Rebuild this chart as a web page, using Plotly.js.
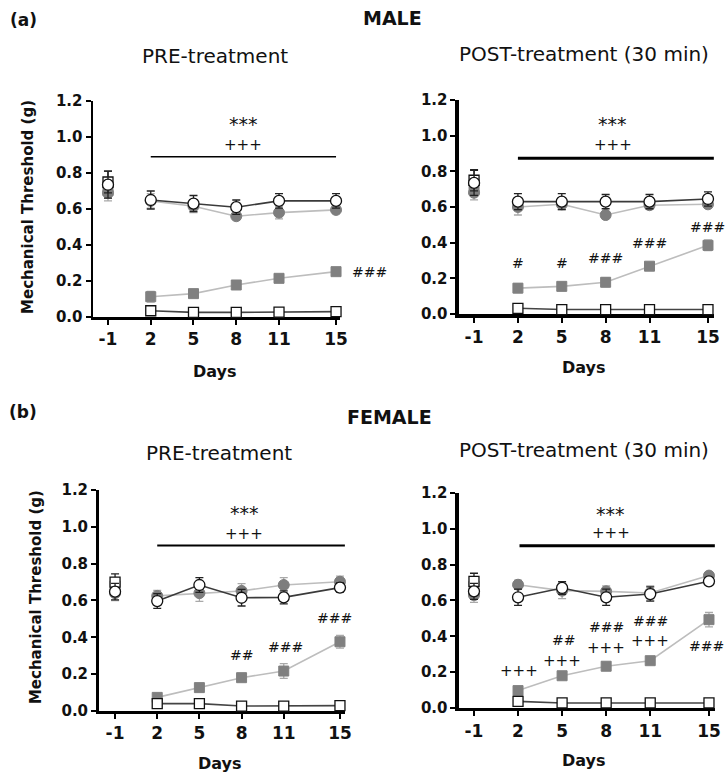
<!DOCTYPE html>
<html>
<head>
<meta charset="utf-8">
<script src="https://cdn.plot.ly/plotly-3.0.1.min.js"></script>
<style>html,body{margin:0;padding:0;background:#fff;}#chart{width:725px;height:778px;}</style>
</head>
<body>
<div id="chart"></div>
<script>
// ---- data ----
const baselineDay = [-1];
const days = [2, 5, 8, 11, 15];
const tickVals = [-1, 2, 5, 8, 11, 15];
const tickText = ['-1', '2', '5', '8', '11', '15'];
const yTickVals = [0, 0.2, 0.4, 0.6, 0.8, 1.0, 1.2];
const yTickText = ['0.0', '0.2', '0.4', '0.6', '0.8', '1.0', '1.2'];

// first value = day -1 (baseline), then days 2,5,8,11,15
// MALE PRE-treatment
const malePreOpenCircle   = [0.735, 0.650, 0.630, 0.610, 0.645, 0.645];
const malePreOpenCircleErr= [0.075, 0.050, 0.045, 0.040, 0.040, 0.040];
const malePreFilledCircle = [0.690, 0.645, 0.615, 0.560, 0.580, 0.595];
const malePreFilledCircleErr=[0.045,0.040, 0.035, 0.020, 0.035, 0.020];
const malePreFilledSquare = [0.700, 0.113, 0.130, 0.178, 0.215, 0.252];
const malePreFilledSquareErr=[0.040,0.030, 0.015, 0.015, 0.015, 0.012];
const malePreOpenSquare   = [0.750, 0.035, 0.026, 0.026, 0.027, 0.030];
const malePreOpenSquareErr= [0.060, 0.008, 0.005, 0.005, 0.005, 0.005];

// MALE POST-treatment (30 min)
const malePostOpenCircle   = [0.735, 0.630, 0.630, 0.630, 0.630, 0.645];
const malePostOpenCircleErr= [0.070, 0.045, 0.045, 0.040, 0.040, 0.040];
const malePostFilledCircle = [0.680, 0.600, 0.615, 0.555, 0.610, 0.615];
const malePostFilledCircleErr=[0.040,0.045, 0.030, 0.020, 0.020, 0.015];
const malePostFilledSquare = [0.700, 0.145, 0.155, 0.178, 0.268, 0.385];
const malePostFilledSquareErr=[0.040,0.025, 0.020, 0.025, 0.020, 0.030];
const malePostOpenSquare   = [0.750, 0.032, 0.025, 0.025, 0.025, 0.025];
const malePostOpenSquareErr= [0.060, 0.008, 0.005, 0.005, 0.005, 0.005];

// FEMALE PRE-treatment
const femalePreOpenCircle   = [0.648, 0.597, 0.684, 0.615, 0.617, 0.670];
const femalePreOpenCircleErr= [0.045, 0.040, 0.040, 0.045, 0.035, 0.025];
const femalePreFilledCircle = [0.640, 0.625, 0.640, 0.652, 0.684, 0.702];
const femalePreFilledCircleErr=[0.040,0.030, 0.045, 0.040, 0.040, 0.030];
const femalePreFilledSquare = [0.680, 0.074, 0.127, 0.181, 0.217, 0.376];
const femalePreFilledSquareErr=[0.040,0.015, 0.015, 0.015, 0.040, 0.035];
const femalePreOpenSquare   = [0.700, 0.040, 0.040, 0.027, 0.027, 0.029];
const femalePreOpenSquareErr= [0.045, 0.008, 0.008, 0.005, 0.005, 0.005];

// FEMALE POST-treatment (30 min)
const femalePostOpenCircle   = [0.651, 0.618, 0.670, 0.618, 0.636, 0.707];
const femalePostOpenCircleErr= [0.045, 0.045, 0.035, 0.045, 0.040, 0.020];
const femalePostFilledCircle = [0.630, 0.688, 0.655, 0.651, 0.642, 0.739];
const femalePostFilledCircleErr=[0.040,0.025, 0.045, 0.030, 0.040, 0.020];
const femalePostFilledSquare = [0.680, 0.097, 0.180, 0.233, 0.264, 0.493];
const femalePostFilledSquareErr=[0.040,0.020, 0.015, 0.015, 0.015, 0.040];
const femalePostOpenSquare   = [0.707, 0.037, 0.028, 0.028, 0.028, 0.028];
const femalePostOpenSquareErr= [0.045, 0.008, 0.005, 0.005, 0.005, 0.005];

// ---- styles ----
const styles = {
  filledSquare: {symbol:'square', size:10, fill:'#808080', edge:'#808080', edgeW:1, line:'#bdbdbd', err:'#a9a9a9'},
  filledCircle: {symbol:'circle', size:11, fill:'#7d7d7d', edge:'#7d7d7d', edgeW:1, line:'#bdbdbd', err:'#a9a9a9'},
  openSquare:   {symbol:'square', size:10, fill:'#ffffff', edge:'#111111', edgeW:1.3, line:'#444444', err:'#222222'},
  openCircle:   {symbol:'circle', size:11, fill:'#ffffff', edge:'#111111', edgeW:1.3, line:'#3a3a3a', err:'#222222'}
};

const FONT = 'DejaVu Sans';
const traces = [];
function addSeries(xa, ya, key, vals, errs) {
  const s = styles[key];
  const common = {
    xaxis: xa, yaxis: ya, showlegend: false, cliponaxis: false, hoverinfo: 'skip',
    marker: {symbol: s.symbol, size: s.size, color: s.fill, line: {color: s.edge, width: s.edgeW}}
  };
  traces.push(Object.assign({}, common, {
    type: 'scatter', mode: 'markers', x: baselineDay, y: vals.slice(0, 1),
    error_y: {type: 'data', array: errs.slice(0, 1), color: s.err, thickness: 1.3, width: 4}
  }));
  traces.push(Object.assign({}, common, {
    type: 'scatter', mode: 'lines+markers', x: days, y: vals.slice(1),
    line: {color: s.line, width: 1.6},
    error_y: {type: 'data', array: errs.slice(1), color: s.err, thickness: 1.3, width: 4}
  }));
}
function addPanel(xa, ya, fc, fce, fs, fse, oc, oce, os, ose) {
  addSeries(xa, ya, 'filledSquare', fs, fse);
  addSeries(xa, ya, 'filledCircle', fc, fce);
  addSeries(xa, ya, 'openSquare', os, ose);
  addSeries(xa, ya, 'openCircle', oc, oce);
}
addPanel('x', 'y', malePreFilledCircle, malePreFilledCircleErr, malePreFilledSquare, malePreFilledSquareErr,
         malePreOpenCircle, malePreOpenCircleErr, malePreOpenSquare, malePreOpenSquareErr);
addPanel('x2', 'y2', malePostFilledCircle, malePostFilledCircleErr, malePostFilledSquare, malePostFilledSquareErr,
         malePostOpenCircle, malePostOpenCircleErr, malePostOpenSquare, malePostOpenSquareErr);
addPanel('x3', 'y3', femalePreFilledCircle, femalePreFilledCircleErr, femalePreFilledSquare, femalePreFilledSquareErr,
         femalePreOpenCircle, femalePreOpenCircleErr, femalePreOpenSquare, femalePreOpenSquareErr);
addPanel('x4', 'y4', femalePostFilledCircle, femalePostFilledCircleErr, femalePostFilledSquare, femalePostFilledSquareErr,
         femalePostOpenCircle, femalePostOpenCircleErr, femalePostOpenSquare, femalePostOpenSquareErr);

function xAxis(domain, range, anchor, lw) {
  return {domain: domain, range: range, anchor: anchor, showgrid: false, zeroline: false,
    showline: true, linecolor: '#000', linewidth: lw, ticks: 'outside', ticklen: 5, tickwidth: 2, tickcolor: '#000',
    tickvals: tickVals, ticktext: tickText, tickfont: {family: FONT, size: 17, color: '#111', weight: 'bold'},
    layer: 'below traces', fixedrange: true};
}
function yAxis(domain, anchor, lw) {
  return {domain: domain, range: [0, 1.2], anchor: anchor, showgrid: false, zeroline: false,
    showline: true, linecolor: '#000', linewidth: lw, ticks: 'outside', ticklen: 5, tickwidth: 2, tickcolor: '#000',
    tickvals: yTickVals, ticktext: yTickText, tickfont: {family: FONT, size: 15, color: '#111', weight: 'bold'},
    layer: 'below traces', fixedrange: true};
}

function txt(text, x, y, size, bold, extra) {
  return Object.assign({text: text, x: x, y: y, xref: 'paper', yref: 'paper', showarrow: false,
    xanchor: 'center', yanchor: 'middle',
    font: {family: FONT, size: size, color: '#111', weight: bold ? 'bold' : 'normal'}}, extra || {});
}
function mark(text, xa, ya, x, y, size, extra) {
  return Object.assign({text: text, x: x, y: y, xref: xa, yref: ya, showarrow: false,
    xanchor: 'center', yanchor: 'middle', font: {family: FONT, size: size, color: '#111'}}, extra || {});
}
const STAR = 19, PLUS = 15, HASH = 14;

const annotations = [
  txt('(a)', 0.011, 0.9743, 17, true, {xanchor: 'left'}),
  txt('MALE', 0.5407, 0.9769, 19, true),
  txt('PRE-treatment', 0.2966, 0.928, 20, false),
  txt('POST-treatment (30 min)', 0.8055, 0.9306, 20, false),
  txt('Mechanical Threshold (g)', 0.0386, 0.734, 15, true, {textangle: -90}),
  txt('Days', 0.2966, 0.5219, 16, true),
  txt('Days', 0.8055, 0.527, 16, true),
  txt('(b)', 0.0097, 0.4704, 17, true, {xanchor: 'left'}),
  txt('FEMALE', 0.5379, 0.464, 19, true),
  txt('PRE-treatment', 0.302, 0.4177, 20, false),
  txt('POST-treatment (30 min)', 0.8055, 0.4216, 20, false),
  txt('Mechanical Threshold (g)', 0.0497, 0.2326, 15, true, {textangle: -90}),
  txt('Days', 0.3034, 0.018, 16, true),
  txt('Days', 0.8055, 0.0219, 16, true),

  // male pre
  mark('***', 'x', 'y', 8.5, 1.07, STAR),
  mark('+++', 'x', 'y', 8.5, 0.958, PLUS),
  mark('###', 'x domain', 'y', 1.12, 0.25, HASH),
  // male post
  mark('***', 'x2', 'y2', 8.5, 1.063, STAR),
  mark('+++', 'x2', 'y2', 8.5, 0.95, PLUS),
  mark('#', 'x2', 'y2', 2, 0.286, HASH),
  mark('#', 'x2', 'y2', 5, 0.286, HASH),
  mark('###', 'x2', 'y2', 8, 0.314, HASH),
  mark('###', 'x2', 'y2', 11, 0.40, HASH),
  mark('###', 'x2', 'y2', 15, 0.49, HASH),
  // female pre
  mark('***', 'x3', 'y3', 8.2, 1.076, STAR),
  mark('+++', 'x3', 'y3', 8.2, 0.959, PLUS),
  mark('##', 'x3', 'y3', 8, 0.304, HASH),
  mark('###', 'x3', 'y3', 11.1, 0.349, HASH),
  mark('###', 'x3', 'y3', 14.6, 0.503, HASH),
  // female post
  mark('***', 'x4', 'y4', 8.3, 1.085, STAR),
  mark('+++', 'x4', 'y4', 8.3, 0.974, PLUS),
  mark('+++', 'x4', 'y4', 2.05, 0.205, PLUS),
  mark('##', 'x4', 'y4', 5.1, 0.381, HASH),
  mark('+++', 'x4', 'y4', 5.0, 0.264, PLUS),
  mark('###', 'x4', 'y4', 8, 0.45, HASH),
  mark('+++', 'x4', 'y4', 8, 0.335, PLUS),
  mark('###', 'x4', 'y4', 11, 0.484, HASH),
  mark('+++', 'x4', 'y4', 11, 0.372, PLUS),
  mark('###', 'x4', 'y4', 14.85, 0.344, HASH)
];

const shapes = [
  {type: 'line', xref: 'x', yref: 'y', x0: 2, x1: 15, y0: 0.89, y1: 0.89, line: {color: '#000', width: 1.6}},
  {type: 'line', xref: 'x2', yref: 'y2', x0: 2, x1: 15.4, y0: 0.873, y1: 0.873, line: {color: '#000', width: 3}},
  {type: 'line', xref: 'x3', yref: 'y3', x0: 2, x1: 15.35, y0: 0.898, y1: 0.898, line: {color: '#000', width: 2}},
  {type: 'line', xref: 'x4', yref: 'y4', x0: 2.1, x1: 15.4, y0: 0.906, y1: 0.906, line: {color: '#000', width: 3}}
];

const layout = {
  width: 725, height: 778, margin: {l: 0, r: 0, t: 0, b: 0},
  paper_bgcolor: '#fff', plot_bgcolor: '#fff', showlegend: false,
  font: {family: FONT, color: '#111'},
  xaxis:  xAxis([0.1283, 0.4690], [-2.05, 15.28], 'y', 2.5),
  yaxis:  yAxis([0.5925, 0.8702], 'x', 2.5),
  xaxis2: xAxis([0.6331, 0.9848], [-2.03, 15.41], 'y2', 3.5),
  yaxis2: yAxis([0.5964, 0.8715], 'x2', 3.5),
  xaxis3: xAxis([0.1366, 0.4759], [-2.14, 15.36], 'y3', 3),
  yaxis3: yAxis([0.0861, 0.3702], 'x3', 3),
  xaxis4: xAxis([0.6331, 0.9862], [-2.02, 15.41], 'y4', 3.5),
  yaxis4: yAxis([0.0900, 0.3663], 'x4', 3.5),
  annotations: annotations,
  shapes: shapes
};

Plotly.newPlot('chart', traces, layout, {displayModeBar: false, staticPlot: true});
</script>
</body>
</html>
